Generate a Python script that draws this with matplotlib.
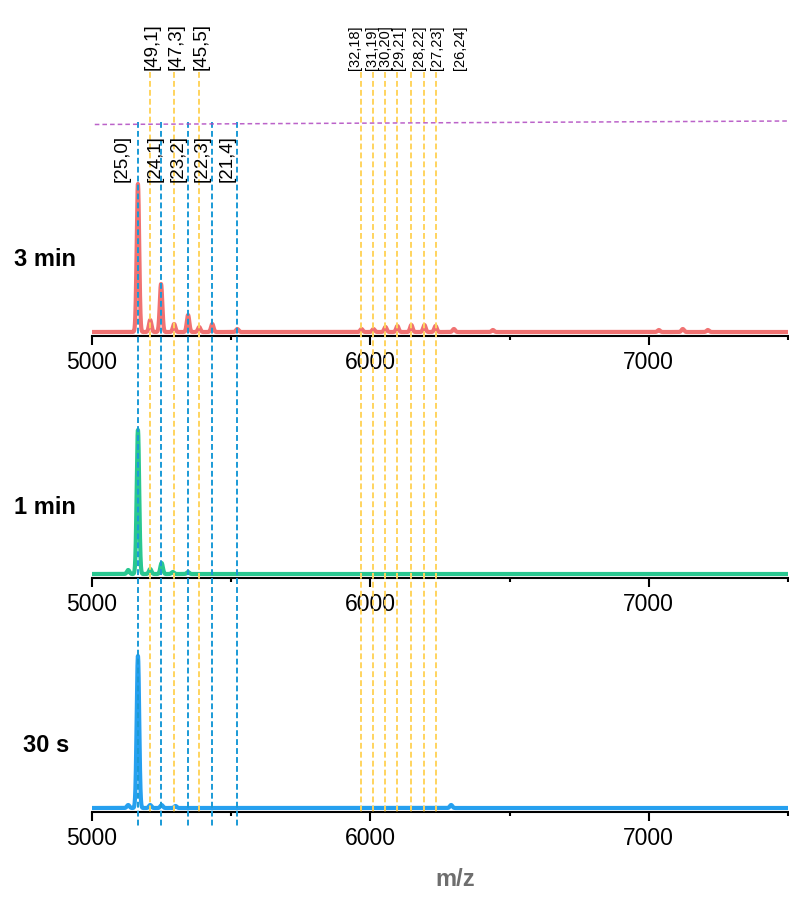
import numpy as np
import matplotlib.pyplot as plt

plt.rcParams['font.family'] = ['Liberation Sans', 'DejaVu Sans']

# peak lists (m/z, intensity a.u.) for each reaction time
red_mz = [5165, 5209, 5248, 5295, 5345, 5385, 5432, 5522, 5968, 6011, 6054,
          6097, 6147, 6194, 6234, 6300, 6440, 7036, 7122, 7212]
red_int = [148, 12, 48, 8, 17, 5, 8, 3, 3, 3, 5, 6, 7, 7, 6, 3, 2, 2, 3, 2]
green_mz = [5130, 5165, 5209, 5250, 5290, 5345]
green_int = [4, 144, 5, 11, 2, 2]
blue_mz = [5130, 5165, 5209, 5250, 5300, 6290]
blue_int = [3, 152, 3, 3, 2, 3]

# assignments [n,m]
blue_pos = [5165, 5248, 5345, 5432, 5522]
blue_lab = ['[25,0]', '[24,1]', '[23,2]', '[22,3]', '[21,4]']
blue_lab_x = [5108, 5227, 5309, 5396, 5486]
yel_pos = [5209, 5295, 5385]
yel_lab = ['[49,1]', '[47,3]', '[45,5]']
yel2_pos = [5968, 6011, 6054, 6097, 6147, 6194, 6234]
yel2_lab = ['[32,18]', '[31,19]', '[30,20]', '[29,21]', '[28,22]', '[27,23]', '[26,24]']
yel2_lab_x = [5944, 6004, 6053, 6102, 6175, 6238, 6322]

panels = [('3 min', red_mz, red_int, '#F06A6A', 336, (45, 260)),
          ('1 min', green_mz, green_int, '#1DC48A', 578, (45, 507)),
          ('30 s', blue_mz, blue_int, '#1A9BEF', 812, (46, 745))]

W, H = 789, 917
fig = plt.figure(figsize=(W / 100, H / 100), dpi=100)
left, width = 92 / W, 696 / W
mz = np.linspace(5000, 7500, 6001)

for name, pmz, pint, col, ybase, (tx, ty) in panels:
    ax = fig.add_axes([left, 1 - ybase / H, width, 200 / H])
    y = np.zeros_like(mz)
    for c, h in zip(pmz, pint):
        y += h * np.exp(-(mz - c) ** 2 / (2 * 4.5 ** 2))
    ax.plot(mz, y, color=col, lw=3, alpha=0.95, solid_joinstyle='round')
    ax.set_xlim(5000, 7500)
    ax.set_ylim(-4, 196)
    for s in ['top', 'right', 'left']:
        ax.spines[s].set_visible(False)
    ax.spines['bottom'].set_linewidth(1.5)
    ax.set_yticks([])
    ax.set_xticks([5000, 6000, 7000])
    ax.set_xticks([5500, 6500, 7500], minor=True)
    ax.tick_params(axis='x', which='major', length=6.5, width=1.5, labelsize=16.5, pad=4)
    ax.tick_params(axis='x', which='minor', length=3, width=1.5)
    ax.patch.set_alpha(0)
    fig.text(tx / W, 1 - ty / H, name, fontsize=17, fontweight='bold',
             ha='center', va='center')

fig.text(455 / W, 1 - 880 / H, 'm/z', fontsize=17, fontweight='bold',
         color='#6E6E6E', ha='center', va='center')

# overlay in pixel rows for the assignment lines
ov = fig.add_axes([left, 0, width, 1])
ov.set_xlim(5000, 7500)
ov.set_ylim(H, 0)
ov.axis('off')
dash = (0, (3, 1.6))
for x in blue_pos:
    ov.plot([x, x], [122, 828], color='#1A9AD6', lw=1.4, ls=dash)
for x in yel_pos + yel2_pos:
    ov.plot([x, x], [72, 812], color='#FFD45E', lw=1.4, ls=dash)
ov.plot([5010, 7500], [124.5, 121], color='#B048C0', lw=1.1, ls=(0, (3, 2)), alpha=0.85)

for x, t in zip(blue_lab_x, blue_lab):
    ov.text(x, 182, t, rotation=90, ha='center', va='bottom', fontsize=13.5)
for x, t in zip(yel_pos, yel_lab):
    ov.text(x + 8, 70, t, rotation=90, ha='center', va='bottom', fontsize=13.5)
for x, t in zip(yel2_lab_x, yel2_lab):
    ov.text(x, 70, t, rotation=90, ha='center', va='bottom', fontsize=10.5)

fig.savefig('out.png', dpi=100)
